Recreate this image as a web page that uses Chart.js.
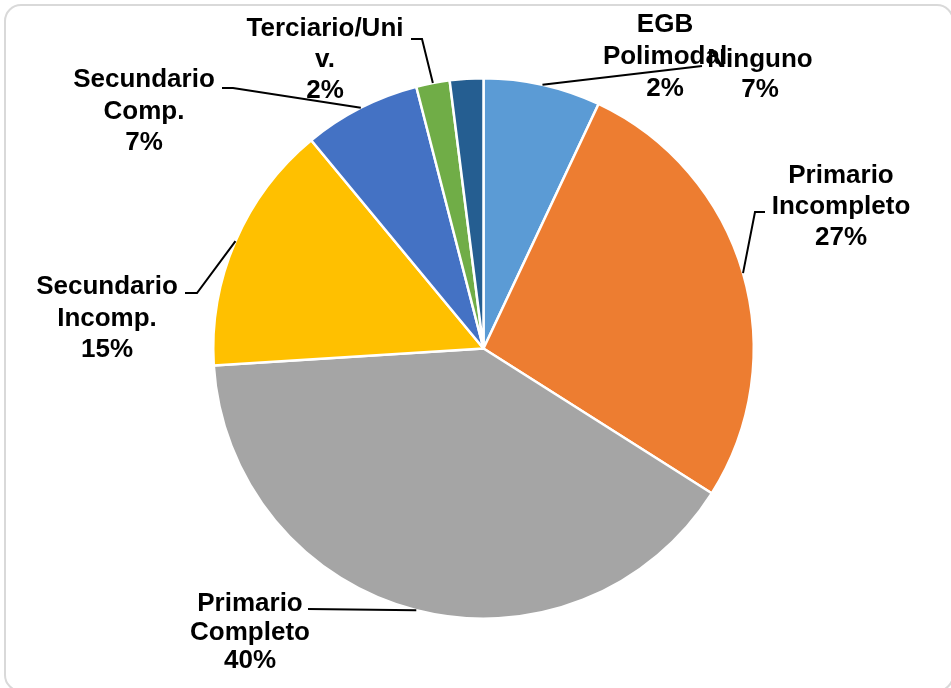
<!DOCTYPE html>
<html>
<head>
<meta charset="utf-8">
<script src="https://cdn.jsdelivr.net/npm/chart.js@4"></script>
<style>
  body { margin: 0; background: #fff; }
  #chart { display: block; }
</style>
</head>
<body>
<canvas id="chart" width="951" height="688"></canvas>
<script>

// categories (wrapped the way the labels show them)
const categories = [
    ["Ninguno"],
    ["Primario", "Incompleto"],
    ["Primario", "Completo"],
    ["Secundario", "Incomp."],
    ["Secundario", "Comp."],
    ["Terciario/Uni", "v."],
    ["EGB", "Polimodal"]
];
const values = [7, 27, 40, 15, 7, 2, 2];
const colors = ["#5B9BD5", "#ED7D31", "#A5A5A5", "#FFC000", "#4472C4", "#70AD47", "#255E91"];

// where each data label sits: text centre x, first baseline, line height,
// and the leader line path from the slice edge (elbow, end) - null = no leader
const labelLayout = [
    { x: 760, y: 67,  lh: 30, path: [[702, 66]] },
    { x: 841, y: 183, lh: 31, path: [[755, 212], [765, 212]] },
    { x: 250, y: 611, lh: 28.5, path: [[308, 609]] },
    { x: 107, y: 294, lh: 31.5, path: [[197, 293], [185, 293]] },
    { x: 144, y: 87,  lh: 31.5, path: [[233, 88], [222, 88]] },
    { x: 325, y: 36,  lh: 31, path: [[422, 39], [411, 39]] },
    { x: 665, y: 32,  lh: 32, path: null }
];

const total = values.reduce((a, b) => a + b, 0);

const frame = {
    id: "frame",
    beforeDraw(chart) {
        const c = chart.ctx;
        c.save();
        c.fillStyle = "#fff";
        c.fillRect(0, 0, chart.width, chart.height);
        c.strokeStyle = "#d9d9d9";
        c.lineWidth = 2;
        c.beginPath();
        c.roundRect(5, 5, 948, 686, 16);
        c.stroke();
        c.restore();
    }
};

const outsideLabels = {
    id: "outsideLabels",
    afterDatasetsDraw(chart) {
        const c = chart.ctx;
        const arcs = chart.getDatasetMeta(0).data;
        c.save();

        // leader lines first, text goes on top
        c.strokeStyle = "#000";
        c.lineWidth = 2;
        arcs.forEach((arc, i) => {
            const lay = labelLayout[i];
            if (!lay.path) return;
            const p = arc.getProps(["x", "y", "startAngle", "endAngle", "outerRadius"], true);
            const mid = (p.startAngle + p.endAngle) / 2;
            c.beginPath();
            c.moveTo(p.x + Math.cos(mid) * p.outerRadius, p.y + Math.sin(mid) * p.outerRadius);
            lay.path.forEach(pt => c.lineTo(pt[0], pt[1]));
            c.stroke();
        });

        c.fillStyle = "#000";
        c.font = "bold 26px 'Liberation Sans', Arial, sans-serif";
        c.textAlign = "center";
        c.textBaseline = "alphabetic";
        arcs.forEach((arc, i) => {
            const lay = labelLayout[i];
            const lines = categories[i].concat([Math.round(values[i] / total * 100) + "%"]);
            lines.forEach((t, k) => c.fillText(t, lay.x, lay.y + k * lay.lh));
        });
        c.restore();
    }
};

const ctx = document.getElementById("chart").getContext("2d");

const chart = new Chart(ctx, {
    type: "pie",
    data: {
        labels: categories,
        datasets: [{
            data: values,
            backgroundColor: colors,
            borderColor: "#fff",
            borderWidth: 2.5
        }]
    },
    options: {
        responsive: false,
        devicePixelRatio: 1,
        animation: false,
        layout: { padding: { top: 77, bottom: 68, left: 212, right: 196 } },
        plugins: {
            legend: { display: false },
            tooltip: { enabled: false }
        }
    },
    plugins: [frame, outsideLabels]
});

</script>
</body>
</html>
